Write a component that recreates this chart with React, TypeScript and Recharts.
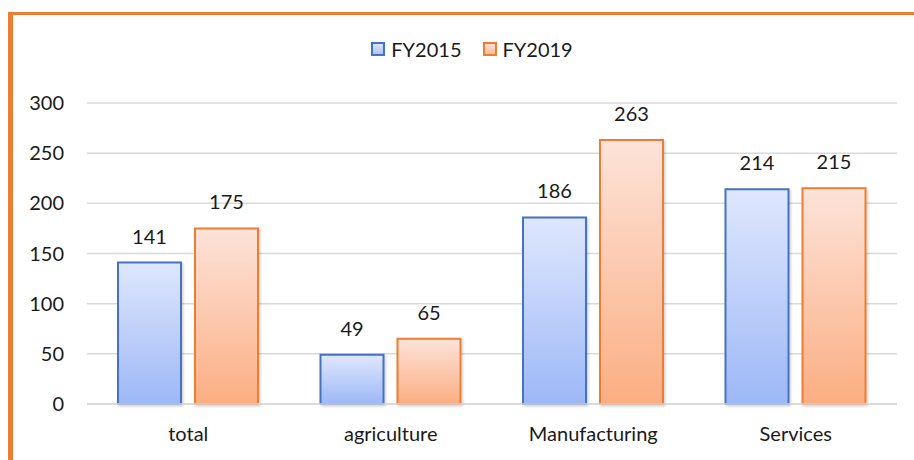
import React from "react";
import { BarChart, Bar, XAxis, YAxis, CartesianGrid, Legend, LabelList } from "recharts";

const categories = ["total", "agriculture", "Manufacturing", "Services"];
const fy2015 = [141, 49, 186, 214];
const fy2019 = [175, 65, 263, 215];
const yTicks = [0, 50, 100, 150, 200, 250, 300];

const data = categories.map((c, i) => ({ name: c, FY2015: fy2015[i], FY2019: fy2019[i] }));

const FONT = "Lato, 'Liberation Sans', sans-serif";
const FS = 20;

const LegendContent = () => (
  <div style={{ display: "flex", justifyContent: "center", fontFamily: FONT, fontSize: FS, color: "#1a1a1a", paddingLeft: 30 }}>
    {[
      { name: "FY2015", stroke: "#4472C4" },
      { name: "FY2019", stroke: "#ED7D31" },
    ].map((s, i) => (
      <div key={s.name} style={{ display: "flex", alignItems: "center", marginLeft: i === 0 ? 0 : 21 }}>
        <svg width={14} height={14} style={{ marginRight: 6 }}>
          <defs>
            <linearGradient id={`lg${i}`} x1="0" y1="0" x2="0" y2="1">
              <stop offset="0%" stopColor={i === 0 ? "#dfe7fd" : "#fde3d9"} />
              <stop offset="100%" stopColor={i === 0 ? "#a9c1f8" : "#fbb891"} />
            </linearGradient>
          </defs>
          <rect x={1} y={1} width={12} height={12} fill={`url(#lg${i})`} stroke={s.stroke} strokeWidth={2} />
        </svg>
        <span>{s.name}</span>
      </div>
    ))}
  </div>
);

export default function App() {
  return (
    <div style={{ position: "absolute", left: 0, top: 0, width: 914, height: 460, background: "#fff" }}>
      <div
        style={{
          position: "absolute",
          left: 8,
          top: 12,
          width: 906,
          height: 448,
          borderTop: "3px solid #ED7D31",
          borderLeft: "5px solid #ED7D31",
          boxSizing: "border-box",
        }}
      />
      <div style={{ position: "absolute", left: 0, top: 0 }}>
        <BarChart
          width={914}
          height={460}
          data={data}
          margin={{ top: 103, right: 17, bottom: 26, left: 0 }}
          barCategoryGap={31}
          barGap={14}
        >
          <defs>
            <linearGradient id="blueGrad" x1="0" y1="0" x2="0" y2="1">
              <stop offset="0%" stopColor="#dfe7fd" />
              <stop offset="100%" stopColor="#9db8f7" />
            </linearGradient>
            <linearGradient id="orangeGrad" x1="0" y1="0" x2="0" y2="1">
              <stop offset="0%" stopColor="#fde3d9" />
              <stop offset="100%" stopColor="#fbae82" />
            </linearGradient>
            <filter id="barShadow" x="-10%" y="-10%" width="130%" height="120%">
              <feDropShadow dx="1.5" dy="1.5" stdDeviation="1.2" floodColor="#000" floodOpacity="0.18" />
            </filter>
          </defs>
          <CartesianGrid vertical={false} stroke="#d9d9d9" strokeWidth={1.5} />
          <XAxis
            dataKey="name"
            axisLine={{ stroke: "#d9d9d9", strokeWidth: 1.5 }}
            tickLine={false}
            tickMargin={17}
            tick={{ fontFamily: FONT, fontSize: FS, fill: "#1a1a1a" }}
          />
          <YAxis
            width={87}
            domain={[0, 300]}
            ticks={yTicks}
            axisLine={false}
            tickLine={false}
            tickSize={0}
            tickMargin={23}
            tick={{ fontFamily: FONT, fontSize: FS, fill: "#1a1a1a" }}
          />
          <Legend
            layout="horizontal"
            verticalAlign="middle"
            align="center"
            wrapperStyle={{ position: "absolute", top: 37, left: 0, width: 914 }}
            content={<LegendContent />}
          />
          <Bar dataKey="FY2015" fill="url(#blueGrad)" stroke="#4472C4" strokeWidth={2} filter="url(#barShadow)" isAnimationActive={false}>
            <LabelList dataKey="FY2015" position="top" offset={19} style={{ fontFamily: FONT, fontSize: FS, fill: "#1a1a1a" }} />
          </Bar>
          <Bar dataKey="FY2019" fill="url(#orangeGrad)" stroke="#ED7D31" strokeWidth={2} filter="url(#barShadow)" isAnimationActive={false}>
            <LabelList dataKey="FY2019" position="top" offset={19} style={{ fontFamily: FONT, fontSize: FS, fill: "#1a1a1a" }} />
          </Bar>
        </BarChart>
      </div>
    </div>
  );
}
